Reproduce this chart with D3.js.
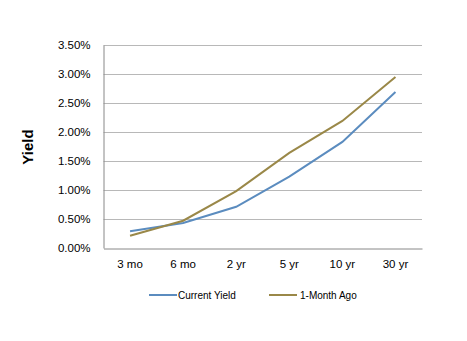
<!DOCTYPE html>
<html><head><meta charset="utf-8">
<script src="https://cdn.jsdelivr.net/npm/d3@7"></script>
<style>body{margin:0;background:#fff;} svg{display:block;font-family:Arial,"Liberation Sans",sans-serif;}</style>
</head><body>
<svg id="c" width="467" height="341"></svg>
<script>
const categories = ["3 mo","6 mo","2 yr","5 yr","10 yr","30 yr"];
const currentYield = [0.29,0.43,0.71,1.23,1.83,2.69];
const monthAgo = [0.21,0.47,0.98,1.64,2.19,2.95];
const yTicks = [0,0.5,1,1.5,2,2.5,3,3.5];
const seriesNames = ["Current Yield","1-Month Ago"];
const colors = ["#5B8CBF","#9A8848"];

const svg = d3.select("#c");
const L=103.5, R=422, T=45, B=248;
const x = d3.scaleBand().domain(categories).range([L,R]);
const y = d3.scaleLinear().domain([0,3.5]).range([B,T]);

svg.append("g").selectAll("line").data(yTicks.slice(1)).join("line")
  .attr("x1",L).attr("x2",R).attr("y1",d=>Math.round(y(d))+0.5).attr("y2",d=>Math.round(y(d))+0.5)
  .attr("stroke","#b8b8b8").attr("stroke-width",1);

const ya = svg.append("g").attr("transform",`translate(${L},0)`)
  .call(d3.axisLeft(y).tickValues(yTicks).tickFormat(d=>d.toFixed(2)+"%").tickSize(0).tickPadding(13));
ya.select(".domain").attr("stroke","#888");
ya.selectAll("text").attr("font-size","11.5px").attr("fill","#000").attr("font-family","Arial,'Liberation Sans',sans-serif");

const xa = svg.append("g").attr("transform",`translate(0,${B+0.5})`)
  .call(d3.axisBottom(x).tickSize(0).tickPadding(11));
xa.select(".domain").attr("stroke","#888");
xa.selectAll("text").attr("font-size","11.5px").attr("fill","#000").attr("font-family","Arial,'Liberation Sans',sans-serif");

svg.append("text").attr("transform",`translate(33,147) rotate(-90)`).attr("text-anchor","middle")
  .attr("font-size","15px").attr("font-weight","bold").text("Yield");

const line = d3.line().x((d,i)=>x(categories[i])+x.bandwidth()/2).y(d=>y(d));
[currentYield, monthAgo].forEach((s,k)=>{
  svg.append("path").datum(s).attr("d",line).attr("fill","none").attr("stroke",colors[k]).attr("stroke-width",2);
});

const leg = [{x:149,t:178},{x:269,t:300}];
seriesNames.forEach((n,k)=>{
  svg.append("line").attr("x1",leg[k].x).attr("x2",leg[k].x+28).attr("y1",295).attr("y2",295)
    .attr("stroke",colors[k]).attr("stroke-width",2);
  svg.append("text").attr("x",leg[k].t).attr("y",298.5).attr("font-size","10px").text(n);
});
</script>
</body></html>
